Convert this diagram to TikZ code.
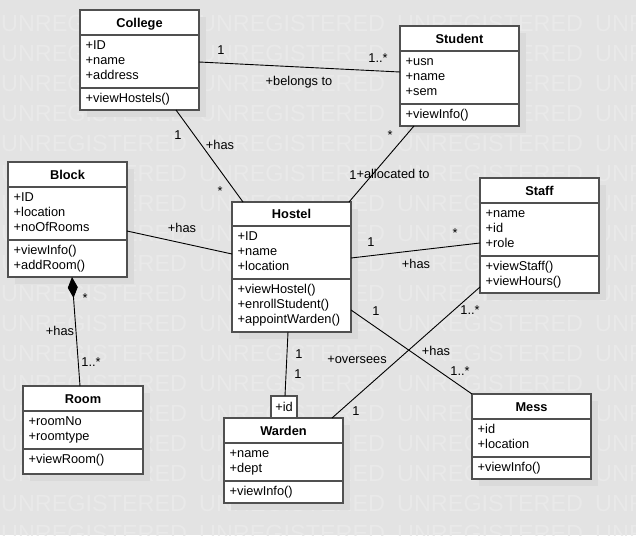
\documentclass[tikz,border=0pt]{standalone}
\usepackage{fontspec}
\setmainfont{Liberation Sans}
\usetikzlibrary{fit,calc,arrows.meta}
\definecolor{bgc}{HTML}{E3E3E3}
\definecolor{wmc}{HTML}{E9E9E9}
\definecolor{shc}{HTML}{DADADA}
\definecolor{boxc}{HTML}{505050}
\tikzset{
  classbox/.style={draw=boxc, line width=1.3pt, fill=white, inner sep=0pt, outer sep=0pt},
  divline/.style={draw=boxc, line width=1.3pt},
  titletext/.style={font=\fontsize{12.8}{15}\selectfont\bfseries, anchor=base, inner sep=0pt},
  membertext/.style={font=\fontsize{12.8}{15}\selectfont, anchor=base west, inner sep=0pt},
  assoc/.style={draw=black, line width=0.9pt},
  lbl/.style={font=\fontsize{12.8}{15}\selectfont, anchor=base, inner sep=0pt},
  wm/.style={font=\fontsize{23.4}{28}\selectfont, text=wmc, anchor=base west, inner sep=0pt},
}
% name, x1, y1, x2, y2, divider1, divider2, title
\newcommand\umlcls[8]{%
  \fill[shc] (#2+7,#3+7) rectangle (#4+7,#5+7);
  \node[classbox, fit={(#2,#3) (#4,#5)}] (#1) {};
  \draw[divline] (#2,#6) -- (#4,#6);
  \draw[divline] (#2,#7) -- (#4,#7);
  \node[titletext] (#1-title) at ({(#2+#4)/2},{(#3+#6)/2+4.6}) {#8};
}
% name prefix, x1, divider y, list
\newcommand\umlmembers[4]{%
  \foreach \mm [count=\i] in {#4} {\node[membertext] (#1-\i) at (#2+5.5, #3+14.5+15*\i-15) {\mm};}
}
\begin{document}
\begin{tikzpicture}[x=1pt,y=-1pt]
\useasboundingbox (0,0) rectangle (636,535);
\clip (0,0) rectangle (636,535);
\fill[bgc] (0,0) rectangle (636,535);
% watermark
\foreach \r in {0,...,17} {
  \foreach \c in {1,199,397,595} {
    \node[wm] (wm\r-\c) at (\c, 31+30*\r) {UNREGISTERED};
  }
}
% classes
\umlcls{college}{80}{10}{199}{110}{35}{88}{College}
\umlmembers{collegeA}{80}{35}{+ID,+name,+address}
\umlmembers{collegeO}{80}{88}{+viewHostels()}

\umlcls{student}{400}{26}{519}{126}{51}{104}{Student}
\umlmembers{studentA}{400}{51}{+usn,+name,+sem}
\umlmembers{studentO}{400}{104}{+viewInfo()}

\umlcls{block}{8}{162}{127}{277}{187}{240}{Block}
\umlmembers{blockA}{8}{187}{+ID,+location,+noOfRooms}
\umlmembers{blockO}{8}{240}{+viewInfo(),+addRoom()}

\umlcls{hostel}{232}{202}{351}{332}{226}{279}{Hostel}
\umlmembers{hostelA}{232}{226}{+ID,+name,+location}
\umlmembers{hostelO}{232}{279}{+viewHostel(),+enrollStudent(),+appointWarden()}

\umlcls{staff}{480}{178}{599}{293}{203}{256}{Staff}
\umlmembers{staffA}{480}{203}{+name,+id,+role}
\umlmembers{staffO}{480}{256}{+viewStaff(),+viewHours()}

\umlcls{room}{23}{386}{143}{474}{411}{449}{Room}
\umlmembers{roomA}{23}{411}{+roomNo,+roomtype}
\umlmembers{roomO}{23}{449}{+viewRoom()}

\umlcls{warden}{224}{418}{343}{503}{443}{481}{Warden}
\umlmembers{wardenA}{224}{443}{+name,+dept}
\umlmembers{wardenO}{224}{481}{+viewInfo()}

\umlcls{mess}{472}{394}{591}{479}{419}{457}{Mess}
\umlmembers{messA}{472}{419}{+id,+location}
\umlmembers{messO}{472}{457}{+viewInfo()}

% qualifier box
\node[classbox, fit={(271,396) (297,418)}] (idq) {};
\node[lbl] (idq-text) at (284,411) {+id};

% connectors
\draw[assoc] ($(college.north east)+(0,52)$) -- ($(student.north west)+(0,46)$);
\draw[assoc] ($(college.south west)+(96,0)$) -- ($(hostel.north west)+(11,0)$);
\draw[assoc] ($(student.south west)+(14,0)$) -- ($(hostel.north east)+(-2,0)$);
\draw[assoc] ($(block.north east)+(0,69)$) -- ($(hostel.north west)+(0,52)$);
\draw[assoc] ($(hostel.north east)+(0,56)$) -- ($(staff.north west)+(0,65)$);
\draw[assoc] ($(hostel.north east)+(0,108)$) -- (mess.north west);
\draw[assoc] ($(staff.north west)+(0,109)$) -- ($(warden.north west)+(108,0)$);
\draw[assoc] ($(hostel.south west)+(56,0)$) -- ($(idq.north west)+(14,0)$);
\draw[assoc, -{Diamond[length=21pt,width=10pt]}] ($(room.north west)+(57,0)$) -- ($(block.south west)+(64,0)$);

% labels
\node[lbl] (l1) at (221,55) {1};
\node[lbl] (l2) at (378,63) {1..*};
\node[lbl] (l3) at (299,85) {+belongs to};
\node[lbl] (l4) at (178,139) {1};
\node[lbl] (l5) at (220,149) {+has};
\node[lbl] (l6) at (220,195) {*};
\node[lbl] (l7) at (390,139.5) {*};
\node[lbl] (l8) at (353,179) {1};
\node[lbl] (l9) at (393,178) {+allocated to};
\node[lbl] (l10) at (182,232) {+has};
\node[lbl] (l11) at (371,246) {1};
\node[lbl] (l12) at (455,237.5) {*};
\node[lbl] (l13) at (416,268) {+has};
\node[lbl] (l14) at (376,315) {1};
\node[lbl] (l15) at (436,355) {+has};
\node[lbl] (l16) at (460,375) {1..*};
\node[lbl] (l17) at (470,314) {1..*};
\node[lbl] (l18) at (357,363) {+oversees};
\node[lbl] (l19) at (356,415) {1};
\node[lbl] (l20) at (299,358) {1};
\node[lbl] (l21) at (298,378) {1};
\node[lbl] (l22) at (85,302) {*};
\node[lbl] (l23) at (60,335) {+has};
\node[lbl] (l24) at (91,366) {1..*};
\end{tikzpicture}
\end{document}
